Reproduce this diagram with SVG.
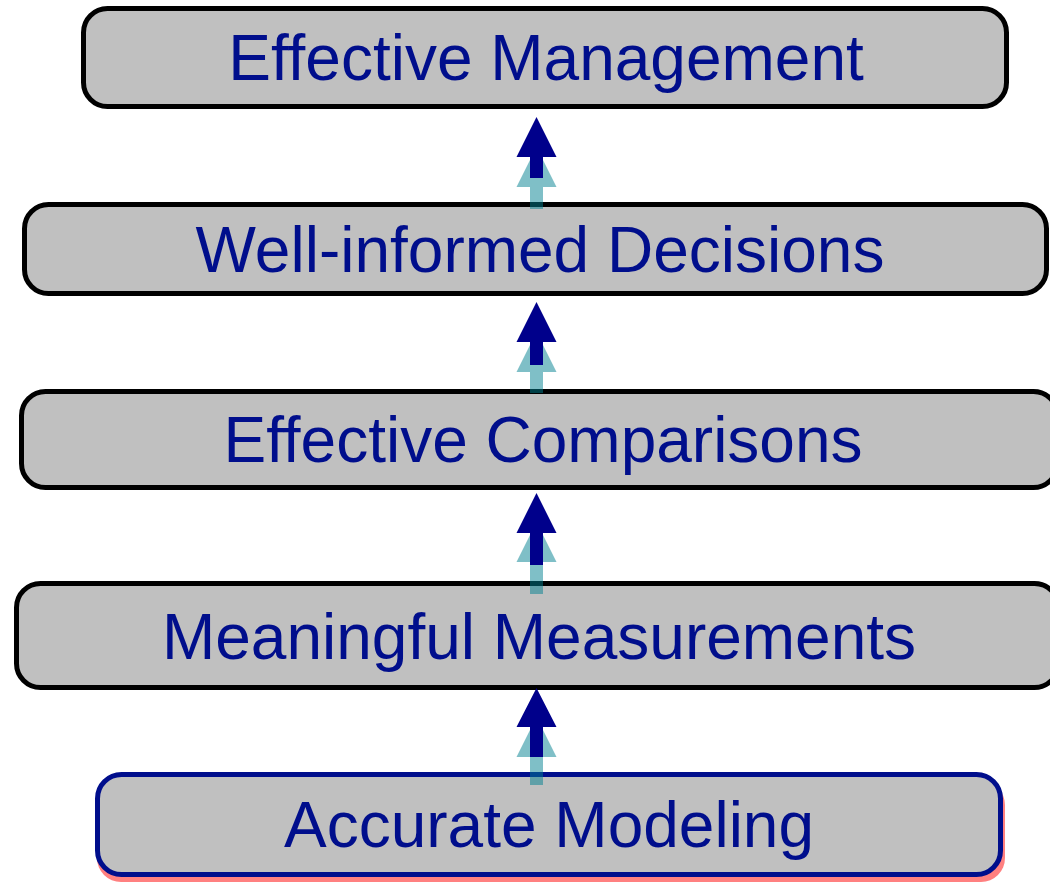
<svg xmlns="http://www.w3.org/2000/svg" width="1050" height="882" viewBox="0 0 1050 882">
  <style>
    .box { fill: #c0c0c0; stroke: #000000; stroke-width: 5; }
    .box-base { fill: #c0c0c0; stroke: #000e8c; stroke-width: 5; }
    .shadow { fill: #ff8080; }
    .label { font-family: "Liberation Sans", Arial, sans-serif; font-size: 64px; fill: #000e8c; text-anchor: middle; }
    .ghost { fill: #007f8f; fill-opacity: 0.5; }
    .arrow { fill: #00008b; }
  </style>
  <rect width="1050" height="882" fill="#ffffff"/>

  <g id="node-management">
    <rect class="box" x="83.5" y="8.5" width="923" height="98" rx="24"/>
    <text class="label" x="546" y="80">Effective Management</text>
  </g>

  <g id="node-decisions">
    <rect class="box" x="24.5" y="204.5" width="1022" height="89" rx="24"/>
    <text class="label" x="540" y="272">Well-informed Decisions</text>
  </g>

  <g id="node-comparisons">
    <rect class="box" x="21.5" y="391.5" width="1036" height="96" rx="24"/>
    <text class="label" x="543" y="462">Effective Comparisons</text>
  </g>

  <g id="node-measurements">
    <rect class="box" x="16.5" y="583.5" width="1042" height="104" rx="24"/>
    <text class="label" x="539" y="659">Meaningful Measurements</text>
  </g>

  <g id="node-modeling">
    <rect class="shadow" x="97" y="781" width="908" height="101" rx="24"/>
    <rect class="box-base" x="97.5" y="774.5" width="903" height="100" rx="24"/>
    <text class="label" x="549" y="847">Accurate Modeling</text>
  </g>

  <g id="connectors">
    <!-- modeling -> measurements -->
    <path class="ghost" d="M536.5,717 L556.5,757 L543,757 L543,785 L530,785 L530,757 L516.5,757 Z"/>
    <path class="arrow" d="M536.5,688 L556.5,727 L543,727 L543,757 L530,757 L530,727 L516.5,727 Z"/>
    <!-- measurements -> comparisons -->
    <path class="ghost" d="M536.5,522 L556.5,562 L543,562 L543,594 L530,594 L530,562 L516.5,562 Z"/>
    <path class="arrow" d="M536.5,493 L556.5,533 L543,533 L543,565 L530,565 L530,533 L516.5,533 Z"/>
    <!-- comparisons -> decisions -->
    <path class="ghost" d="M536.5,332 L556.5,372 L543,372 L543,393 L530,393 L530,372 L516.5,372 Z"/>
    <path class="arrow" d="M536.5,302 L556.5,342 L543,342 L543,365 L530,365 L530,342 L516.5,342 Z"/>
    <!-- decisions -> management -->
    <path class="ghost" d="M536.5,147 L556.5,187 L543,187 L543,209 L530,209 L530,187 L516.5,187 Z"/>
    <path class="arrow" d="M536.5,117 L556.5,157 L543,157 L543,178 L530,178 L530,157 L516.5,157 Z"/>
  </g>
</svg>
